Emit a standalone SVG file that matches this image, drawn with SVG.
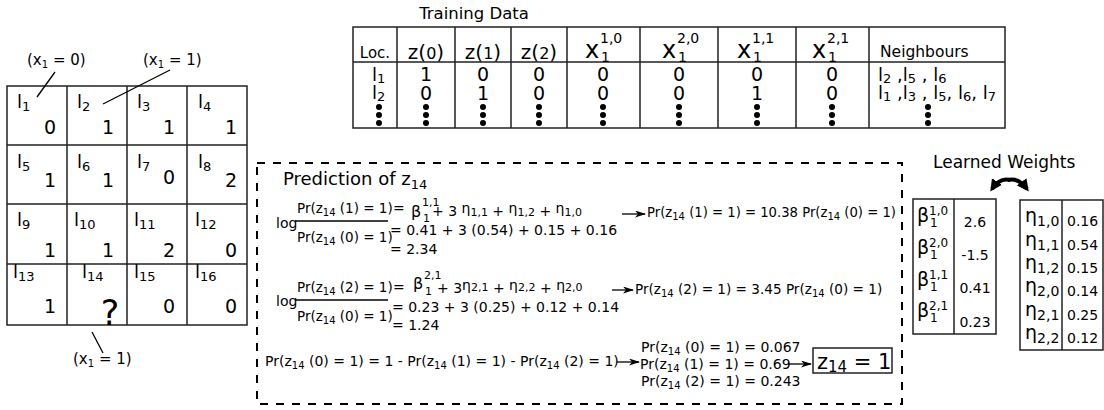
<svg xmlns="http://www.w3.org/2000/svg" width="1104" height="410" viewBox="0 0 1104 410">
<defs>
<style>
text{font-family:"DejaVu Sans",Verdana,sans-serif;fill:#000}
.bx{fill:#fff;stroke:#222;stroke-width:1.5}
.gl{stroke:#222;stroke-width:1.5;fill:none}
.ln{stroke:#000;stroke-width:1.3;fill:none}
.lbl{font-size:18px}
.ls{font-size:13px}
.val{font-size:19px;text-anchor:end}
.ann{font-size:15px}
.as{font-size:10px}
.hd{font-size:20px;text-anchor:middle}
.td{font-size:19px;text-anchor:middle}
.eq{font-size:14px}
.fr{font-size:13.5px}
.s{font-size:10px}
.s11{font-size:11px}
.wt{font-size:14px}
.dot{fill:#000}
.dash{fill:none;stroke:#000;stroke-width:2;stroke-dasharray:8 8}
</style>
<marker id="ah" markerWidth="11" markerHeight="7" refX="10" refY="3.5" orient="auto" markerUnits="userSpaceOnUse"><path d="M0,0 L11,3.5 L0,7 L3,3.5 Z" fill="#000"/></marker>
<marker id="big" markerWidth="14" markerHeight="12" refX="9" refY="6" orient="auto" markerUnits="userSpaceOnUse"><path d="M0,0 L12,6 L0,12 Z" fill="#000"/></marker>
</defs>
<rect width="1104" height="410" fill="#fff"/>

<!-- grid -->
<g id="grid">
<rect class="bx" x="7" y="86" width="240" height="239" stroke-width="2"/>
<path class="gl" d="M67,86V325M127,86V325M187,86V325M7,145H247M7,204H247M7,264H247"/>
</g>
<g id="cell-l1"><text class="lbl" x="17" y="108">l<tspan class="ls" dy="3">1</tspan></text><text class="val" x="56" y="134">0</text></g>
<g id="cell-l2"><text class="lbl" x="77" y="108">l<tspan class="ls" dy="3">2</tspan></text><text class="val" x="114" y="134">1</text></g>
<g id="cell-l3"><text class="lbl" x="137" y="108">l<tspan class="ls" dy="3">3</tspan></text><text class="val" x="175" y="134">1</text></g>
<g id="cell-l4"><text class="lbl" x="198" y="108">l<tspan class="ls" dy="3">4</tspan></text><text class="val" x="237" y="134">1</text></g>
<g id="cell-l5"><text class="lbl" x="17" y="168">l<tspan class="ls" dy="3">5</tspan></text><text class="val" x="56" y="187">1</text></g>
<g id="cell-l6"><text class="lbl" x="77" y="168">l<tspan class="ls" dy="3">6</tspan></text><text class="val" x="114" y="187">1</text></g>
<g id="cell-l7"><text class="lbl" x="137" y="168">l<tspan class="ls" dy="3">7</tspan></text><text class="val" x="175" y="184">0</text></g>
<g id="cell-l8"><text class="lbl" x="198" y="168">l<tspan class="ls" dy="3">8</tspan></text><text class="val" x="237" y="187">2</text></g>
<g id="cell-l9"><text class="lbl" x="17" y="226">l<tspan class="ls" dy="3">9</tspan></text><text class="val" x="56" y="257">1</text></g>
<g id="cell-l10"><text class="lbl" x="74" y="226">l<tspan class="ls" dy="3">10</tspan></text><text class="val" x="114" y="257">1</text></g>
<g id="cell-l11"><text class="lbl" x="134" y="226">l<tspan class="ls" dy="3">11</tspan></text><text class="val" x="175" y="257">2</text></g>
<g id="cell-l12"><text class="lbl" x="195" y="226">l<tspan class="ls" dy="3">12</tspan></text><text class="val" x="237" y="257">0</text></g>
<g id="cell-l13"><text class="lbl" x="13" y="278">l<tspan class="ls" dy="3">13</tspan></text><text class="val" x="56" y="313">1</text></g>
<g id="cell-l14"><text class="lbl" x="82" y="278">l<tspan class="ls" dy="3">14</tspan></text><text x="110" y="325" font-size="35" text-anchor="middle">?</text></g>
<g id="cell-l15"><text class="lbl" x="134" y="278">l<tspan class="ls" dy="3">15</tspan></text><text class="val" x="175" y="313">0</text></g>
<g id="cell-l16"><text class="lbl" x="195" y="278">l<tspan class="ls" dy="3">16</tspan></text><text class="val" x="237" y="313">0</text></g>

<g id="annotations">
<text class="ann" x="27" y="65">(x<tspan class="as" dy="3">1</tspan><tspan dy="-3"> = 0)</tspan></text>
<text class="ann" x="143" y="65">(x<tspan class="as" dy="3">1</tspan><tspan dy="-3"> = 1)</tspan></text>
<text class="ann" x="73" y="364">(x<tspan class="as" dy="3">1</tspan><tspan dy="-3"> = 1)</tspan></text>
</g>

<!-- training data table -->
<g id="training-data">
<text x="474" y="19" font-size="16.5" text-anchor="middle">Training Data</text>
<rect class="bx" x="353" y="27" width="652" height="101"/>
<path class="gl" d="M353,62H1005M397,27V128M455,27V128M511,27V128M567,27V128M640,27V128M718,27V128M796,27V128M869,27V128"/>
<text x="375" y="58" font-size="15" text-anchor="middle">Loc.</text>
<text class="hd" x="426" y="59">z(<tspan font-size="16">0</tspan>)</text>
<text class="hd" x="483" y="59">z(<tspan font-size="16">1</tspan>)</text>
<text class="hd" x="539" y="59">z(<tspan font-size="16">2</tspan>)</text>
<text x="585" y="58" font-size="24">x</text><text x="600" y="43" font-size="14">1,0</text><text x="601" y="62" font-size="14">1</text>
<text x="662" y="58" font-size="24">x</text><text x="677" y="43" font-size="14">2,0</text><text x="678" y="62" font-size="14">1</text>
<text x="737" y="58" font-size="24">x</text><text x="752" y="43" font-size="14">1,1</text><text x="753" y="62" font-size="14">1</text>
<text x="812" y="58" font-size="24">x</text><text x="827" y="43" font-size="14">2,1</text><text x="828" y="62" font-size="14">1</text>
<text x="880" y="57" font-size="15.5">Neighbours</text>
<text x="372" y="81" font-size="18">l<tspan font-size="13" dy="2">1</tspan></text>
<text x="372" y="99" font-size="18">l<tspan font-size="13" dy="2">2</tspan></text>
<text class="td" x="426" y="81">1</text><text class="td" x="483" y="81">0</text><text class="td" x="539" y="81">0</text><text class="td" x="603" y="81">0</text><text class="td" x="679" y="81">0</text><text class="td" x="757" y="81">0</text><text class="td" x="832" y="81">0</text>
<text class="td" x="426" y="99.5">0</text><text class="td" x="483" y="99.5">1</text><text class="td" x="539" y="99.5">0</text><text class="td" x="603" y="99.5">0</text><text class="td" x="679" y="99.5">0</text><text class="td" x="757" y="99.5">1</text><text class="td" x="832" y="99.5">0</text>
<text x="878" y="81" font-size="18">l<tspan font-size="13" dy="2">2</tspan><tspan dy="-2"> ,l</tspan><tspan font-size="13" dy="2">5</tspan><tspan dy="-2"> , l</tspan><tspan font-size="13" dy="2">6</tspan></text>
<text x="878" y="99" font-size="18">l<tspan font-size="13" dy="2">1</tspan><tspan dy="-2"> ,l</tspan><tspan font-size="13" dy="2">3</tspan><tspan dy="-2"> , l</tspan><tspan font-size="13" dy="2">5</tspan><tspan dy="-2">, l</tspan><tspan font-size="13" dy="2">6</tspan><tspan dy="-2">, l</tspan><tspan font-size="13" dy="2">7</tspan></text>
<g class="dot">
<circle cx="379" cy="107" r="3"/><circle cx="379" cy="115" r="3"/><circle cx="379" cy="123" r="3"/>
<circle cx="426" cy="107" r="3"/><circle cx="426" cy="115" r="3"/><circle cx="426" cy="123" r="3"/>
<circle cx="483" cy="107" r="3"/><circle cx="483" cy="115" r="3"/><circle cx="483" cy="123" r="3"/>
<circle cx="539" cy="107" r="3"/><circle cx="539" cy="115" r="3"/><circle cx="539" cy="123" r="3"/>
<circle cx="603" cy="107" r="3"/><circle cx="603" cy="115" r="3"/><circle cx="603" cy="123" r="3"/>
<circle cx="679" cy="107" r="3"/><circle cx="679" cy="115" r="3"/><circle cx="679" cy="123" r="3"/>
<circle cx="757" cy="107" r="3"/><circle cx="757" cy="115" r="3"/><circle cx="757" cy="123" r="3"/>
<circle cx="832" cy="107" r="3"/><circle cx="832" cy="115" r="3"/><circle cx="832" cy="123" r="3"/>
<circle cx="928" cy="107" r="3"/><circle cx="928" cy="115" r="3"/><circle cx="928" cy="123" r="3"/>
</g>
</g>

<!-- prediction box -->
<g id="prediction">
<rect class="dash" x="257" y="163" width="645" height="241"/>
<text x="283" y="185" font-size="18">Prediction of z<tspan font-size="13" dy="4">14</tspan></text>

<text class="eq" x="276" y="228">log</text>
<text class="fr" x="297" y="213">Pr(z<tspan class="s" dy="3">14</tspan><tspan dy="-3"> (1) = 1)</tspan></text>
<line class="ln" x1="296" y1="221" x2="388" y2="221"/>
<text class="fr" x="297" y="242">Pr(z<tspan class="s" dy="3">14</tspan><tspan dy="-3"> (0) = 1)</tspan></text>
<text class="eq" x="393" y="213">=</text>
<text x="411" y="217" font-size="16">β</text><text class="s11" x="422" y="206">1,1</text><text class="s11" x="423" y="222">1</text>
<text class="eq" x="432" y="216">+ 3 <tspan dy="-3">η</tspan><tspan class="s11" dy="3">1,1</tspan> + <tspan dy="-3">η</tspan><tspan class="s11" dy="3">1,2</tspan> + <tspan dy="-3">η</tspan><tspan class="s11" dy="3">1,0</tspan></text>
<text class="eq" x="390" y="235">= 0.41 + 3 (0.54) + 0.15 + 0.16</text>
<text class="eq" x="390" y="254">= 2.34</text>
<text x="647" y="217" font-size="13.2">Pr(z<tspan class="s" dy="3">14</tspan><tspan dy="-3"> (1) = 1) = 10.38 Pr(z</tspan><tspan class="s" dy="3">14</tspan><tspan dy="-3"> (0) = 1)</tspan></text>

<text class="eq" x="276" y="306">log</text>
<text class="fr" x="297" y="292">Pr(z<tspan class="s" dy="3">14</tspan><tspan dy="-3"> (2) = 1)</tspan></text>
<line class="ln" x1="296" y1="300" x2="388" y2="300"/>
<text class="fr" x="297" y="321">Pr(z<tspan class="s" dy="3">14</tspan><tspan dy="-3"> (0) = 1)</tspan></text>
<text class="eq" x="393" y="292">=</text>
<text x="413" y="289" font-size="16">β</text><text class="s11" x="424" y="279">2,1</text><text class="s11" x="425" y="295">1</text>
<text class="eq" x="437" y="293">+ 3<tspan dy="-3">η</tspan><tspan class="s11" dy="1">2,1</tspan><tspan dy="2"> + </tspan><tspan dy="-3">η</tspan><tspan class="s11" dy="1">2,2</tspan><tspan dy="2"> + </tspan><tspan dy="-3">η</tspan><tspan class="s11" dy="1">2,0</tspan></text>
<text class="eq" x="392" y="312">= 0.23 + 3 (0.25) + 0.12 + 0.14</text>
<text class="eq" x="392" y="330">= 1.24</text>
<text x="635" y="294" font-size="13.6">Pr(z<tspan class="s" dy="3">14</tspan><tspan dy="-3"> (2) = 1) = 3.45 Pr(z</tspan><tspan class="s" dy="3">14</tspan><tspan dy="-3"> (0) = 1)</tspan></text>

<text class="eq" x="265" y="366">Pr(z<tspan class="s" dy="3">14</tspan><tspan dy="-3"> (0) = 1) = 1 - Pr(z</tspan><tspan class="s" dy="3">14</tspan><tspan dy="-3"> (1) = 1) - Pr(z</tspan><tspan class="s" dy="3">14</tspan><tspan dy="-3"> (2) = 1)</tspan></text>
<text class="eq" x="641" y="352">Pr(z<tspan class="s" dy="3">14</tspan><tspan dy="-3"> (0) = 1) = 0.067</tspan></text>
<text class="eq" x="640" y="369">Pr(z<tspan class="s" dy="3">14</tspan><tspan dy="-3"> (1) = 1) = 0.69</tspan></text>
<text class="eq" x="641" y="386">Pr(z<tspan class="s" dy="3">14</tspan><tspan dy="-3"> (2) = 1) = 0.243</tspan></text>
</g>

<g id="result">
<rect class="bx" x="813" y="348" width="79" height="25" stroke="#000"/>
<text x="817" y="369" font-size="21">z<tspan font-size="15" dy="3">14</tspan><tspan dy="-3"> = 1</tspan></text>
</g>

<!-- learned weights -->
<g id="learned-weights">
<text x="933" y="168" font-size="17">Learned Weights</text>
</g>
<g id="beta-table">
<rect class="bx" x="913" y="199" width="83" height="135"/>
<line class="gl" x1="954" y1="199" x2="954" y2="334"/>
<text x="917" y="222" font-size="19">β</text><text x="929" y="215" font-size="12">1,0</text><text x="930" y="227" font-size="12">1</text>
<text x="917" y="254" font-size="19">β</text><text x="929" y="247" font-size="12">2,0</text><text x="930" y="259" font-size="12">1</text>
<text x="917" y="286" font-size="19">β</text><text x="929" y="279" font-size="12">1,1</text><text x="930" y="291" font-size="12">1</text>
<text x="917" y="317" font-size="19">β</text><text x="929" y="310" font-size="12">2,1</text><text x="930" y="322" font-size="12">1</text>
<text class="wt" x="975" y="227" text-anchor="middle">2.6</text>
<text class="wt" x="975" y="260" text-anchor="middle">-1.5</text>
<text class="wt" x="975" y="293" text-anchor="middle">0.41</text>
<text class="wt" x="975" y="327" text-anchor="middle">0.23</text>
</g>
<g id="eta-table">
<rect class="bx" x="1020" y="200" width="83" height="150"/>
<line class="gl" x1="1062" y1="200" x2="1062" y2="350"/>
<text x="1025" y="222" font-size="19">η<tspan font-size="14" dy="4">1,0</tspan></text>
<text x="1025" y="245.5" font-size="19">η<tspan font-size="14" dy="4">1,1</tspan></text>
<text x="1025" y="269" font-size="19">η<tspan font-size="14" dy="4">1,2</tspan></text>
<text x="1025" y="292" font-size="19">η<tspan font-size="14" dy="4">2,0</tspan></text>
<text x="1025" y="315.5" font-size="19">η<tspan font-size="14" dy="4">2,1</tspan></text>
<text x="1025" y="339" font-size="19">η<tspan font-size="14" dy="4">2,2</tspan></text>
<text class="wt" x="1067" y="226">0.16</text>
<text class="wt" x="1067" y="249.5">0.54</text>
<text class="wt" x="1067" y="273">0.15</text>
<text class="wt" x="1067" y="296">0.14</text>
<text class="wt" x="1067" y="319.5">0.25</text>
<text class="wt" x="1067" y="343">0.12</text>
</g>

<!-- connectors -->
<g id="connectors">
<line class="ln" x1="55" y1="72" x2="37" y2="97"/>
<line class="ln" x1="170" y1="70" x2="103" y2="104"/>
<line class="ln" x1="92" y1="332" x2="103" y2="353"/>
<line class="ln" x1="622" y1="214" x2="645" y2="214" marker-end="url(#ah)"/>
<line class="ln" x1="612" y1="290" x2="633" y2="290" marker-end="url(#ah)"/>
<line class="ln" x1="617" y1="362" x2="639" y2="362" marker-end="url(#ah)"/>
<line class="ln" x1="788" y1="364" x2="811" y2="364" marker-end="url(#ah)"/>
<path d="M1010,180 Q1000,177 992,189" fill="none" stroke="#000" stroke-width="4" marker-end="url(#big)"/>
<path d="M1008,180 Q1018,177 1027,189" fill="none" stroke="#000" stroke-width="4" marker-end="url(#big)"/>
</g>
</svg>
